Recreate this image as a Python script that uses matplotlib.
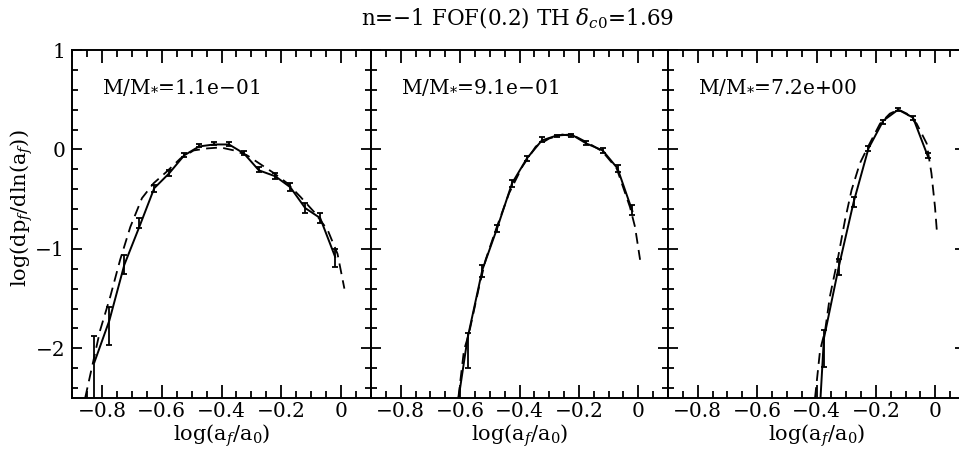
import numpy as np
import matplotlib
matplotlib.use("Agg")
import matplotlib.pyplot as plt
from matplotlib.ticker import MultipleLocator, FuncFormatter

plt.rcParams['font.family'] = 'DejaVu Serif'
plt.rcParams['mathtext.fontset'] = 'dejavuserif'

# ---- panel 1: M/M* = 1.1e-01 ----
x1 = [-0.825, -0.775, -0.725, -0.675, -0.625, -0.575, -0.525, -0.475, -0.425,
      -0.375, -0.325, -0.275, -0.22, -0.17, -0.12, -0.07, -0.02]
y1 = [-2.14, -1.72, -1.16, -0.78, -0.39, -0.24, -0.06, 0.03, 0.05,
      0.05, -0.04, -0.21, -0.27, -0.38, -0.59, -0.69, -1.08]
lo1 = [-2.6, -1.97, -1.25, -0.79, -0.43, -0.27, -0.08, 0.02, 0.04,
       0.03, -0.06, -0.23, -0.30, -0.42, -0.64, -0.74, -1.18]
hi1 = [-1.88, -1.58, -1.06, -0.69, -0.36, -0.21, -0.04, 0.05, 0.07,
       0.07, -0.02, -0.18, -0.24, -0.34, -0.54, -0.64, -1.00]
mx1 = [-0.856, -0.834, -0.806, -0.772, -0.739, -0.705, -0.666, -0.627, -0.582,
       -0.537, -0.493, -0.448, -0.403, -0.358, -0.314, -0.269, -0.224, -0.180,
       -0.135, -0.090, -0.045, -0.012, 0.011]
my1 = [-2.5, -2.2, -1.82, -1.48, -1.11, -0.78, -0.49, -0.34, -0.22,
       -0.09, -0.01, 0.01, 0.02, -0.01, -0.06, -0.15, -0.24, -0.34,
       -0.48, -0.63, -0.81, -1.05, -1.40]

# ---- panel 2: M/M* = 9.1e-01 ----
x2 = [-0.625, -0.575, -0.525, -0.475, -0.425, -0.375, -0.325, -0.275, -0.225,
      -0.175, -0.12, -0.07, -0.02]
y2 = [-2.9, -1.90, -1.21, -0.79, -0.34, -0.09, 0.09, 0.14, 0.15,
      0.06, -0.01, -0.19, -0.62]
lo2 = [-2.9, -2.20, -1.28, -0.83, -0.38, -0.12, 0.07, 0.13, 0.13,
       0.04, -0.04, -0.23, -0.66]
hi2 = [-2.9, -1.85, -1.16, -0.76, -0.31, -0.07, 0.12, 0.15, 0.16,
       0.08, 0.01, -0.16, -0.56]
mx2 = [-0.606, -0.587, -0.570, -0.536, -0.514, -0.480, -0.435, -0.390, -0.345,
       -0.300, -0.256, -0.211, -0.166, -0.121, -0.073, -0.028, -0.011, 0.006]
my2 = [-2.5, -2.02, -1.85, -1.38, -1.11, -0.81, -0.44, -0.17, 0.03,
       0.11, 0.15, 0.13, 0.06, -0.02, -0.19, -0.58, -0.78, -1.11]

# ---- panel 3: M/M* = 7.2e+00 ----
x3 = [-0.425, -0.375, -0.325, -0.275, -0.225, -0.175, -0.125, -0.075, -0.025]
y3 = [-4.5, -1.90, -1.18, -0.53, 0.01, 0.29, 0.40, 0.32, -0.07]
lo3 = [-4.5, -2.19, -1.26, -0.58, -0.02, 0.26, 0.39, 0.30, -0.09]
hi3 = [-4.5, -1.82, -1.10, -0.48, 0.03, 0.30, 0.42, 0.34, -0.04]
mx3 = [-0.405, -0.388, -0.371, -0.355, -0.327, -0.304, -0.282, -0.254, -0.226,
       -0.186, -0.153, -0.124, -0.096, -0.063, -0.029, -0.013, -0.001, 0.005]
my3 = [-2.5, -2.02, -1.82, -1.48, -1.08, -0.71, -0.41, -0.14, 0.03,
       0.26, 0.36, 0.40, 0.36, 0.26, 0.06, -0.24, -0.58, -0.81]

mass_labels = [r'M/M$_{*}$=1.1e$-$01', r'M/M$_{*}$=9.1e$-$01', r'M/M$_{*}$=7.2e+00']
panels = [(x1, y1, lo1, hi1, mx1, my1),
          (x2, y2, lo2, hi2, mx2, my2),
          (x3, y3, lo3, hi3, mx3, my3)]

fig = plt.figure(figsize=(9.59, 4.51), dpi=100)
lefts = [72, 371, 668]
widths = [299, 297, 297]


def fmt(v, pos):
    s = f'{v:g}'
    if s in ('-0', '0'):
        return '0'
    return s.replace('-', '\u2212')


for i, (xs, ys, lo, hi, mx, my) in enumerate(panels):
    ax = fig.add_axes([lefts[i] / 959, 53 / 451, widths[i] / 959, 348 / 451])
    xs = np.array(xs); ys = np.array(ys)
    lo = np.array(lo); hi = np.array(hi)
    ax.plot(xs, ys, color='k', lw=1.4, solid_joinstyle='miter')
    ax.errorbar(xs, ys, yerr=[ys - lo, hi - ys], fmt='none', ecolor='k',
                elinewidth=1.3, capsize=2.5, capthick=1.3)
    ax.plot(mx, my, color='k', lw=1.3, dashes=(6, 3.5))
    ax.set_xlim(-0.9, 0.1)
    ax.set_ylim(-2.5, 1)
    ax.xaxis.set_major_locator(MultipleLocator(0.2))
    ax.xaxis.set_minor_locator(MultipleLocator(0.05))
    ax.yaxis.set_major_locator(MultipleLocator(1))
    ax.yaxis.set_minor_locator(MultipleLocator(0.2))
    ax.xaxis.set_major_formatter(FuncFormatter(fmt))
    ax.yaxis.set_major_formatter(FuncFormatter(fmt))
    ax.tick_params(axis='both', which='both', direction='in', top=True, right=True,
                   labelsize=14.5, width=1.3)
    ax.tick_params(axis='x', which='major', length=9.5, pad=3)
    ax.tick_params(axis='x', which='minor', length=5)
    ax.tick_params(axis='y', which='major', length=7.5, pad=5)
    ax.tick_params(axis='y', which='minor', length=4.5)
    for sp in ax.spines.values():
        sp.set_linewidth(1.4)
    if i > 0:
        ax.set_yticklabels([])
    else:
        ax.set_ylabel(r'log(dp$_{f}$/dln(a$_{f}$))', fontsize=15)
        ax.yaxis.set_label_coords(-0.123, 0.545)
    ax.set_xlabel(r'log(a$_{f}$/a$_{0}$)', fontsize=15)
    ax.xaxis.set_label_coords(0.5, -0.07)
    ax.text(0.1, 0.894, mass_labels[i], transform=ax.transAxes, fontsize=14.5,
            ha='left', va='center')

fig.text(517 / 959, 1 - 18 / 451, r'n=$-$1 FOF(0.2) TH $\delta_{c0}$=1.69',
         ha='center', va='center', fontsize=15.5)

fig.savefig('out.png', dpi=100)
